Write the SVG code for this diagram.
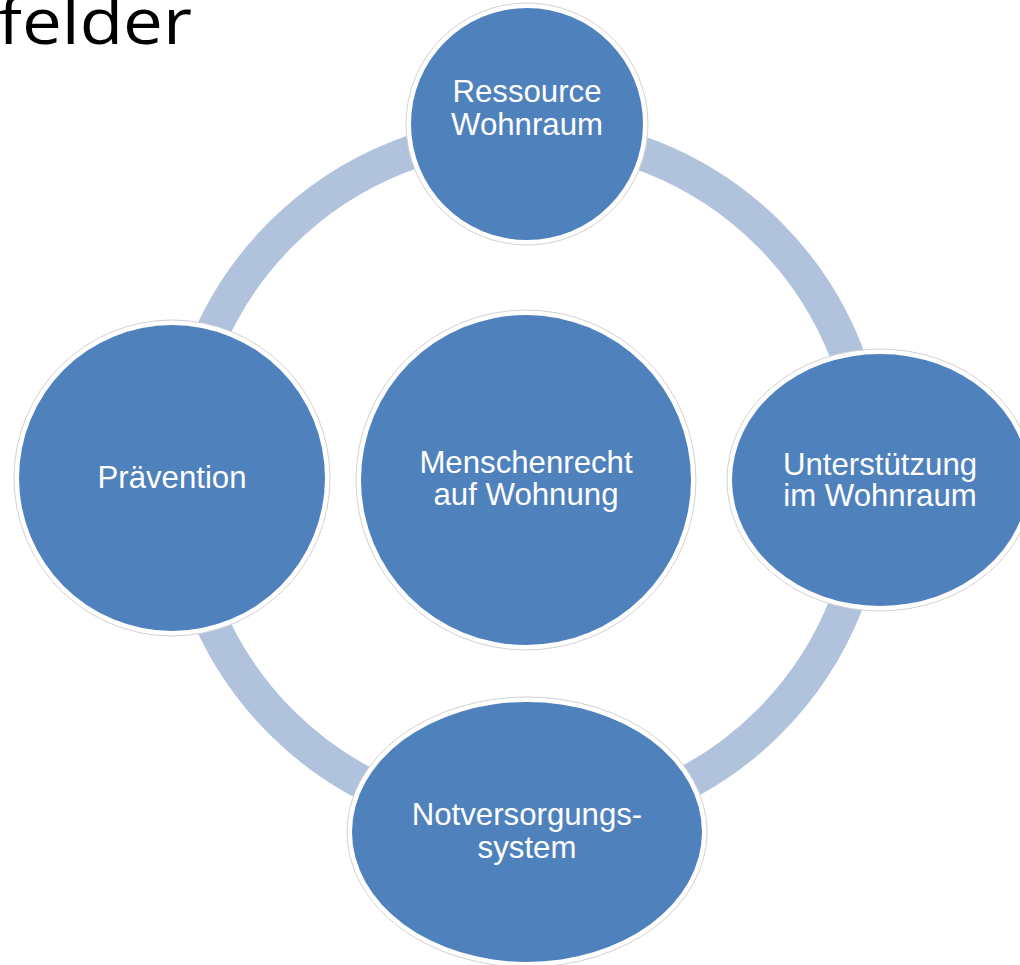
<svg xmlns="http://www.w3.org/2000/svg" width="1020" height="965" viewBox="0 0 1020 965">
  <style>
    .halo { fill: #ffffff; stroke: #d2d2d2; stroke-width: 1; }
    .body { fill: #4f81bd; }
    .label { fill: #ffffff; font-family: "Liberation Sans", Arial, sans-serif; font-size: 31.2px; text-anchor: middle; }
    .title { fill: #000000; font-family: "Open Sans", "Noto Sans", sans-serif; font-size: 64px; }
    .ring { fill: none; stroke: #b0c2dc; stroke-width: 34; }
  </style>

  <rect width="1020" height="965" fill="#ffffff"/>

  <text class="title" x="-2" y="44" textLength="194" lengthAdjust="spacingAndGlyphs">felder</text>

  <!-- connecting ring behind the outer nodes -->
  <g id="connectors">
    <circle class="ring" cx="525" cy="478" r="345"/>
  </g>

  <g id="node-ressource">
    <circle class="halo" cx="527" cy="124" r="121"/>
    <circle class="body" cx="527" cy="124" r="116"/>
    <text class="label" x="527" y="102">Ressource</text>
    <text class="label" x="527" y="135">Wohnraum</text>
  </g>

  <g id="node-menschenrecht">
    <circle class="halo" cx="526" cy="480" r="170"/>
    <circle class="body" cx="526" cy="480" r="165"/>
    <text class="label" x="526" y="473">Menschenrecht</text>
    <text class="label" x="526" y="505">auf Wohnung</text>
  </g>

  <g id="node-praevention">
    <circle class="halo" cx="172" cy="478" r="158"/>
    <circle class="body" cx="172" cy="478" r="153"/>
    <text class="label" x="172" y="488">Prävention</text>
  </g>

  <g id="node-unterstuetzung">
    <ellipse class="halo" cx="880" cy="480" rx="153" ry="131"/>
    <ellipse class="body" cx="880" cy="480" rx="148" ry="126"/>
    <text class="label" x="880" y="475">Unterstützung</text>
    <text class="label" x="880" y="506">im Wohnraum</text>
  </g>

  <g id="node-notversorgung">
    <ellipse class="halo" cx="527" cy="832" rx="180" ry="135"/>
    <ellipse class="body" cx="527" cy="832" rx="175" ry="130"/>
    <text class="label" x="527" y="825">Notversorgungs-</text>
    <text class="label" x="527" y="858">system</text>
  </g>
</svg>
